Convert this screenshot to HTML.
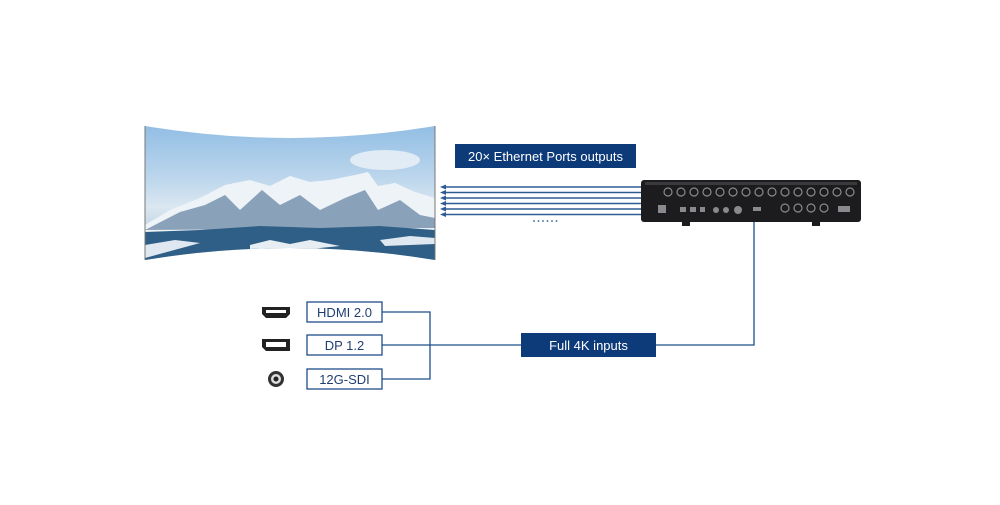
<!DOCTYPE html>
<html><head><style>
body{margin:0;width:1000px;height:500px;background:#fff;overflow:hidden;font-family:"Liberation Sans",sans-serif}
.t{font-family:"Liberation Sans",sans-serif;font-size:13px}
</style></head><body>
<svg width="1000" height="500" viewBox="0 0 1000 500">
<defs>
<linearGradient id="sky" x1="0" y1="0" x2="0" y2="1">
<stop offset="0" stop-color="#8dbbe3"/><stop offset="0.4" stop-color="#bcd6ec"/><stop offset="0.6" stop-color="#dbe7f1"/><stop offset="1" stop-color="#9fbad2"/></linearGradient>
<clipPath id="scr"><path d="M145,126 Q290,150 435,126 L435,260 Q290,236 145,260 Z"/></clipPath>
</defs>
<g clip-path="url(#scr)">
<rect x="145" y="120" width="290" height="145" fill="url(#sky)"/>
<ellipse cx="385" cy="160" rx="35" ry="10" fill="#eef3f8" opacity="0.8"/>
<path d="M145,225 L170,210 L200,198 L225,185 L250,180 L270,186 L290,176 L310,182 L330,180 L355,175 L368,172 L378,186 L395,183 L415,192 L435,198 L435,235 L145,235 Z" fill="#eef3f8"/>
<path d="M180,212 L205,205 L225,195 L240,210 L262,190 L280,205 L300,195 L320,210 L345,198 L365,190 L378,210 L400,200 L420,215 L435,218 L435,228 L145,230 Z" fill="#5f7f9e" opacity="0.7"/>
<path d="M145,232 L200,230 L260,226 L320,228 L380,226 L435,230 L435,265 L145,265 Z" fill="#2f5f86"/>
<path d="M145,245 L175,240 L200,243 L145,258 Z" fill="#dfe8f0"/>
<path d="M250,245 L270,240 L290,244 L310,240 L340,246 L300,250 L250,250 Z" fill="#e6edf3"/>
<path d="M380,240 L410,236 L435,238 L435,244 L385,246 Z" fill="#dfe8f0"/>
</g>
<line x1="145" y1="126" x2="145" y2="260" stroke="#777" stroke-width="1"/>
<line x1="435" y1="126" x2="435" y2="260" stroke="#777" stroke-width="1"/>
<rect x="455" y="144" width="181" height="24" fill="#0d3a78"/>
<text x="545.5" y="161" fill="#fff" text-anchor="middle" class="t">20× Ethernet Ports outputs</text>
<g stroke="#2f5b94" stroke-width="1.6">
<line x1="445" y1="187" x2="641" y2="187"/><line x1="445" y1="192.5" x2="641" y2="192.5"/><line x1="445" y1="198" x2="641" y2="198"/><line x1="445" y1="203.5" x2="641" y2="203.5"/><line x1="445" y1="209" x2="641" y2="209"/><line x1="445" y1="214.5" x2="641" y2="214.5"/>
</g>
<g fill="#2f5b94">
<path d="M440,187 l6,-2.5 v5z"/><path d="M440,192.5 l6,-2.5 v5z"/><path d="M440,198 l6,-2.5 v5z"/><path d="M440,203.5 l6,-2.5 v5z"/><path d="M440,209 l6,-2.5 v5z"/><path d="M440,214.5 l6,-2.5 v5z"/>
</g>
<g fill="#2f5b94"><circle cx="534" cy="221" r="0.9"/><circle cx="538.5" cy="221" r="0.9"/><circle cx="543" cy="221" r="0.9"/><circle cx="547.5" cy="221" r="0.9"/><circle cx="552" cy="221" r="0.9"/><circle cx="556.5" cy="221" r="0.9"/></g>
<rect x="641" y="180" width="220" height="42" rx="3" fill="#1c1c1e"/>
<rect x="645" y="182" width="212" height="3" fill="#3a3a3c"/>
<g fill="#1c1c1e" stroke="#8a8a8e" stroke-width="1.2">
<circle cx="668" cy="192" r="4"/><circle cx="681" cy="192" r="4"/><circle cx="694" cy="192" r="4"/><circle cx="707" cy="192" r="4"/><circle cx="720" cy="192" r="4"/><circle cx="733" cy="192" r="4"/><circle cx="746" cy="192" r="4"/><circle cx="759" cy="192" r="4"/><circle cx="772" cy="192" r="4"/><circle cx="785" cy="192" r="4"/><circle cx="798" cy="192" r="4"/><circle cx="811" cy="192" r="4"/><circle cx="824" cy="192" r="4"/><circle cx="837" cy="192" r="4"/><circle cx="850" cy="192" r="4"/>
<circle cx="785" cy="208" r="4"/><circle cx="798" cy="208" r="4"/><circle cx="811" cy="208" r="4"/><circle cx="824" cy="208" r="4"/>
</g>
<g fill="#8a8a8e">
<rect x="658" y="205" width="8" height="8"/><rect x="680" y="207" width="6" height="5"/><rect x="690" y="207" width="6" height="5"/><rect x="700" y="207" width="5" height="5"/><circle cx="716" cy="210" r="3"/><circle cx="726" cy="210" r="3"/><circle cx="738" cy="210" r="4"/><rect x="753" y="207" width="8" height="4"/><rect x="838" y="206" width="12" height="6"/>
</g>
<rect x="682" y="222" width="8" height="4" fill="#1c1c1e"/><rect x="812" y="222" width="8" height="4" fill="#1c1c1e"/>
<g stroke="#1f4f8a" stroke-width="1.3" fill="none">
<path d="M754,222 V345 H656"/>
<path d="M382,312 H430 V379 H382"/>
<path d="M382,345 H521"/>
<rect x="307" y="302" width="75" height="20" fill="#fff"/>
<rect x="307" y="335" width="75" height="20" fill="#fff"/>
<rect x="307" y="369" width="75" height="20" fill="#fff"/>
</g>
<rect x="521" y="333" width="135" height="24" fill="#0d3a78"/>
<text x="588.5" y="350" fill="#fff" text-anchor="middle" class="t">Full 4K inputs</text>
<text x="344.5" y="317" fill="#1f3f70" text-anchor="middle" class="t">HDMI 2.0</text>
<text x="344.5" y="350" fill="#1f3f70" text-anchor="middle" class="t">DP 1.2</text>
<text x="344.5" y="384" fill="#1f3f70" text-anchor="middle" class="t">12G-SDI</text>
<path d="M262,307 H290 V314 L286,318 H266 L262,314 Z" fill="#222"/>
<rect x="266" y="310" width="20" height="3" fill="#fff"/>
<path d="M262,339 H290 V351 H266 L262,347 Z" fill="#222"/>
<rect x="266" y="342" width="20" height="5" fill="#fff"/>
<circle cx="276" cy="379" r="8" fill="#333"/><circle cx="276" cy="379" r="5" fill="#ddd"/><circle cx="276" cy="379" r="2.5" fill="#222"/>
</svg>
</body></html>
